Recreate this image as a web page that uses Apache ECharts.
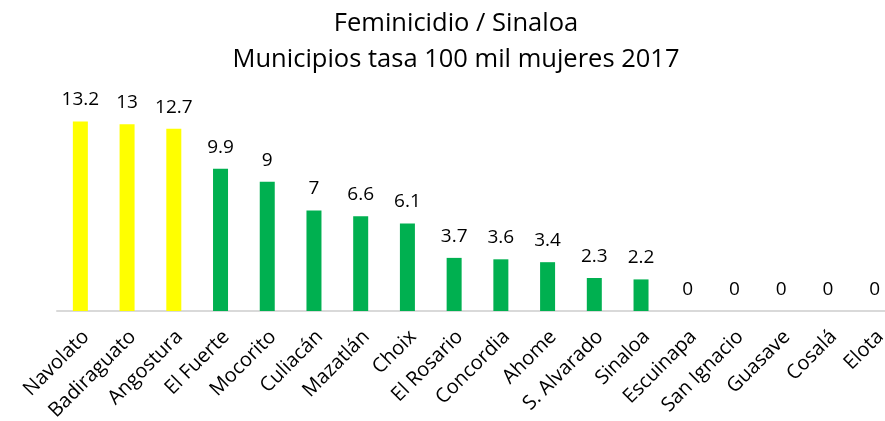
<!DOCTYPE html>
<html>
<head>
<meta charset="utf-8">
<script src="https://cdn.jsdelivr.net/npm/echarts@6/dist/echarts.min.js"></script>
<style>
  html, body { margin: 0; padding: 0; background: #fff; }
  #main { width: 885px; height: 421px; }
</style>
</head>
<body>
<div id="main"></div>
<script>
// municipios y tasas (por 100 mil mujeres)
var municipios = ['Navolato', 'Badiraguato', 'Angostura', 'El Fuerte', 'Mocorito', 'Culiacán', 'Mazatlán', 'Choix',
  'El Rosario', 'Concordia', 'Ahome', 'S. Alvarado', 'Sinaloa', 'Escuinapa', 'San Ignacio', 'Guasave', 'Cosalá', 'Elota'];
var tasas = [13.2, 13, 12.7, 9.9, 9, 7, 6.6, 6.1, 3.7, 3.6, 3.4, 2.3, 2.2, 0, 0, 0, 0, 0];
// los tres primeros en amarillo
var destacados = ['Navolato', 'Badiraguato', 'Angostura'];

var myChart = echarts.init(document.getElementById('main'));
myChart.setOption({
  animation: false,
  backgroundColor: '#ffffff',
  title: {
    text: 'Feminicidio / Sinaloa\nMunicipios tasa 100 mil mujeres 2017',
    left: 451,
    top: 1,
    textAlign: 'center',
    textStyle: {
      fontFamily: 'Open Sans',
      fontWeight: 'normal',
      fontSize: 25.5,
      lineHeight: 36,
      color: '#000'
    }
  },
  grid: {
    left: 57,
    width: 841,
    top: 110,
    bottom: 110,
    outerBoundsMode: 'none'
  },
  xAxis: {
    type: 'category',
    data: municipios,
    axisTick: { show: false },
    axisLine: { lineStyle: { color: '#d9d9d9', width: 2 } },
    axisLabel: {
      rotate: 45,
      interval: 0,
      margin: 17,
      verticalAlign: 'top',
      lineHeight: 16,
      color: '#000',
      fontFamily: 'Open Sans',
      fontSize: 20
    }
  },
  yAxis: {
    type: 'value',
    min: 0,
    max: 14,
    show: false,
    splitLine: { show: false }
  },
  series: [{
    type: 'bar',
    barWidth: 15,
    data: tasas.map(function (v, i) {
      return {
        value: v,
        itemStyle: { color: destacados.indexOf(municipios[i]) >= 0 ? '#ffff00' : '#00b050' }
      };
    }),
    label: {
      show: true,
      position: 'top',
      distance: 12,
      color: '#000',
      fontFamily: 'Open Sans',
      fontSize: 19
    }
  }]
});
</script>
</body>
</html>
